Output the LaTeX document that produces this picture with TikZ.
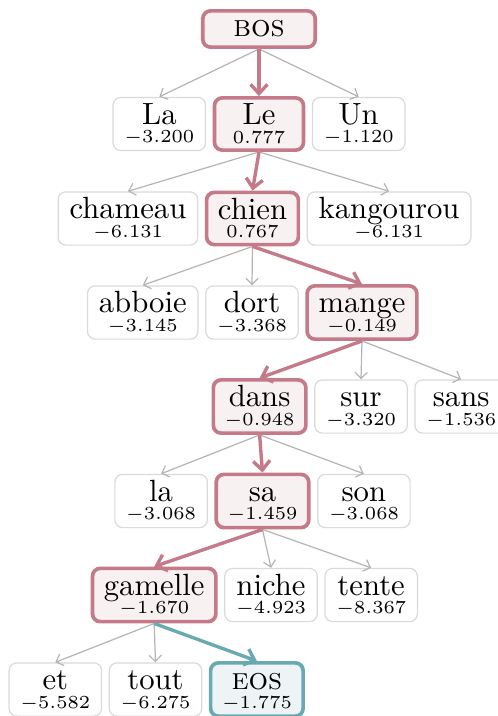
\documentclass[tikz,border=0pt]{standalone}
\usetikzlibrary{positioning,arrows.meta}
\definecolor{pathred}{HTML}{C47A88}
\definecolor{pathfill}{HTML}{F8F1F1}
\definecolor{eosteal}{HTML}{69A9B1}
\definecolor{eosfill}{HTML}{EEF4F6}
\definecolor{boxgray}{HTML}{DADADA}
\definecolor{edgegray}{HTML}{B5B5B5}
\newcommand{\tok}[2]{\rule{0pt}{7pt}#1\\[-6.1pt]{\fontsize{6}{7}\selectfont\rule[-0.5pt]{0pt}{1pt}$#2$}}
\begin{document}
\begin{tikzpicture}[x=0.3257pt,y=-0.3257pt,node distance=2.1pt]
\tikzset{word/.style={draw=boxgray,line width=0.4pt,rounded corners=2.5pt,fill=white,
  align=center,inner xsep=3.7pt,inner ysep=1.8pt,minimum width=29pt}}
\tikzset{beamword/.style={word,draw=pathred,fill=pathfill,line width=1.2pt}}
\tikzset{eosword/.style={word,draw=eosteal,fill=eosfill,line width=1.2pt}}
\tikzset{cand/.style={draw=edgegray,line width=0.4pt,-{Straight Barb[length=2pt,width=4pt]}}}
\tikzset{best/.style={draw=pathred,line width=1.1pt,-{Straight Barb[length=3pt,width=5.5pt]}}}
\tikzset{endbest/.style={best,draw=eosteal}}
\useasboundingbox (0,0) rectangle (497,716);

\node[beamword,minimum width=36.6pt,minimum height=11.8pt] (bos) at (259,29) {\textsc{bos}};

\node[beamword] (le) at (259,124) {\tok{Le}{0.777}};
\node[word,left=of le] (la) {\tok{La}{-3.200}};
\node[word,right=of le] (un) {\tok{Un}{-1.120}};

\node[beamword] (chien) at (252.5,218.5) {\tok{chien}{0.767}};
\node[word,left=of chien] (chameau) {\tok{chameau}{-6.131}};
\node[word,right=of chien] (kangourou) {\tok{kangourou}{-6.131}};

\node[word] (dort) at (252,312.5) {\tok{dort}{-3.368}};
\node[word,left=of dort] (abboie) {\tok{abboie}{-3.145}};
\node[beamword,right=of dort] (mange) {\tok{mange}{-0.149}};

\node[word] (sur) at (361,406.5) {\tok{sur}{-3.320}};
\node[beamword,left=of sur] (dans) {\tok{dans}{-0.948}};
\node[word,right=of sur] (sans) {\tok{sans}{-1.536}};

\node[beamword] (sa) at (262.5,501) {\tok{sa}{-1.459}};
\node[word,left=of sa] (la2) {\tok{la}{-3.068}};
\node[word,right=of sa] (son) {\tok{son}{-3.068}};

\node[word] (niche) at (271,595) {\tok{niche}{-4.923}};
\node[beamword,left=of niche] (gamelle) {\tok{gamelle}{-1.670}};
\node[word,right=of niche] (tente) {\tok{tente}{-8.367}};

\node[word] (tout) at (155.5,689.5) {\tok{tout}{-6.275}};
\node[word,left=of tout] (et) {\tok{et}{-5.582}};
\node[eosword,right=of tout] (eos) {\tok{\textsc{eos}}{-1.775}};

\draw[cand] (bos.south) -- (la.north);
\draw[cand] (bos.south) -- (un.north);
\draw[cand] (le.south) -- (chameau.north);
\draw[cand] (le.south) -- (kangourou.north);
\draw[cand] (chien.south) -- (abboie.north);
\draw[cand] (chien.south) -- (dort.north);
\draw[cand] (mange.south) -- (sur.north);
\draw[cand] (mange.south) -- (sans.north);
\draw[cand] (dans.south) -- (la2.north);
\draw[cand] (dans.south) -- (son.north);
\draw[cand] (sa.south) -- (niche.north);
\draw[cand] (sa.south) -- (tente.north);
\draw[cand] (gamelle.south) -- (et.north);
\draw[cand] (gamelle.south) -- (tout.north);

\draw[best] (bos.south) -- (le.north);
\draw[best] (le.south) -- (chien.north);
\draw[best] (chien.south) -- (mange.north);
\draw[best] (mange.south) -- (dans.north);
\draw[best] (dans.south) -- (sa.north);
\draw[best] (sa.south) -- (gamelle.north);
\draw[endbest] (gamelle.south) -- (eos.north);
\end{tikzpicture}
\end{document}
